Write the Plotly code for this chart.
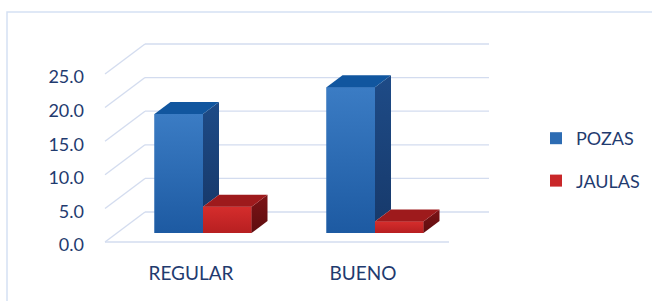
import plotly.graph_objects as go

# ---------------- data ----------------
categories = ["REGULAR", "BUENO"]
series_names = ["POZAS", "JAULAS"]
pozas = [17.7, 21.7]
jaulas = [3.9, 1.7]
y_tick_values = [0, 5, 10, 15, 20, 25]
y_tick_labels = ["0.0", "5.0", "10.0", "15.0", "20.0", "25.0"]

# ---------------- styling / geometry ----------------
W, H = 652, 301
ML, MR, MT, MB = 88, 0, 0, 45
PX_PER_CAT = 172.0
PX_PER_VAL = 6.72
X0_PX = 191.0      # pixel of category 0 at the front of the floor
Y0_PX = 212.0      # pixel of value 0 on the back wall
DEPTH_X = 40 / PX_PER_CAT
DEPTH_Y = 30 / PX_PER_VAL
BAR_D0, BAR_D1 = 0.3, 0.7
BAR_W = 0.282
LABEL_DROP = 3 / PX_PER_VAL   # tick labels sit a little below the wall corner

TEXT = "#1f3b6f"
GRID = "#d3dcef"
FONT = "Lato"

face = {
    "POZAS": dict(front="#2d6cb3", front_top="#3b7cc4", front_bot="#1d5aa2",
                  top="#11569f", side_top="#1e4b87", side_bot="#173a6c"),
    "JAULAS": dict(front="#c92729", front_top="#d52d2c", front_bot="#b71f21",
                   top="#9e1a1c", side_top="#7c1316", side_bot="#5e0d0f"),
}

def proj(x, v, d):
    return x + d * DEPTH_X, v - (1 - d) * DEPTH_Y

plot_w = W - ML - MR
plot_h = H - MT - MB
x_range = [(ML - X0_PX) / PX_PER_CAT, (W - MR - X0_PX) / PX_PER_CAT]
y_range = [(Y0_PX - (H - MB)) / PX_PER_VAL, (Y0_PX - MT) / PX_PER_VAL]

fig = go.Figure()

series = [pozas, jaulas]
base_val = -(1 - BAR_D0) * DEPTH_Y
xs = list(range(len(categories)))

# front faces (bars)
for s, (name, vals) in enumerate(zip(series_names, series)):
    offs = -BAR_W / 2 if s == 0 else BAR_W / 2
    fig.add_trace(go.Bar(
        x=[i + BAR_D0 * DEPTH_X + offs for i in xs],
        y=vals,
        base=[base_val] * len(vals),
        width=BAR_W,
        name=name,
        marker=dict(color=face[name]["front"], line=dict(width=0)),
        legendgroup=name,
        hoverinfo="skip",
    ))

def poly(pts, **kw):
    fig.add_trace(go.Scatter(
        x=[p[0] for p in pts] + [pts[0][0]], y=[p[1] for p in pts] + [pts[0][1]],
        mode="lines", fill="toself", line=dict(width=0),
        showlegend=False, hoverinfo="skip", **kw))

# shading of front faces, side and top faces
for i in xs:
    for s, (name, vals) in enumerate(zip(series_names, series)):
        v = vals[i]
        f = face[name]
        xl = i - BAR_W if s == 0 else i
        xr = xl + BAR_W
        # front face gradient
        poly([proj(xl, 0, BAR_D0), proj(xr, 0, BAR_D0), proj(xr, v, BAR_D0), proj(xl, v, BAR_D0)],
             fillgradient=dict(type="vertical", colorscale=[[0, f["front_bot"]], [1, f["front_top"]]]))
        # right side face (part hidden by the neighbouring bar is left out)
        lo = 0
        if s == 0:
            lo = min(series[1][i], v)
        if v > lo:
            poly([proj(xr, lo, BAR_D0), proj(xr, v, BAR_D0), proj(xr, v, BAR_D1), proj(xr, lo, BAR_D1)],
                 fillgradient=dict(type="vertical", colorscale=[[0, f["side_bot"]], [1, f["side_top"]]]))
        # top face
        poly([proj(xl, v, BAR_D0), proj(xr, v, BAR_D0), proj(xr, v, BAR_D1), proj(xl, v, BAR_D1)],
             fillcolor=f["top"])

# walls: back gridlines, side-wall diagonals, floor front edge
shapes = []
left, right = -0.5, len(categories) - 0.5
for v in y_tick_values:
    a = proj(left, v, 1); b = proj(right, v, 1)
    shapes.append(dict(type="line", xref="x", yref="y", x0=a[0], y0=a[1], x1=b[0], y1=b[1],
                       line=dict(color=GRID, width=1.3), layer="below"))
    c = proj(left, v, 0)
    shapes.append(dict(type="line", xref="x", yref="y", x0=c[0], y0=c[1], x1=a[0], y1=a[1],
                       line=dict(color=GRID, width=1.3), layer="below"))
a = proj(left, 0, 0); b = proj(right, 0, 0)
shapes.append(dict(type="line", xref="x", yref="y", x0=a[0], y0=a[1], x1=b[0], y1=b[1],
                   line=dict(color=GRID, width=1.3), layer="below"))
# chart frame
shapes.append(dict(type="rect", xref="paper", yref="paper",
                   x0=(7 - ML) / plot_w, x1=1.2, y0=-0.5, y1=1 - (12 - MT) / plot_h,
                   line=dict(color="#d5e1f3", width=1.5), layer="below"))

fig.update_layout(
    width=W, height=H,
    margin=dict(l=ML, r=MR, t=MT, b=MB, autoexpand=False),
    paper_bgcolor="white", plot_bgcolor="white",
    barmode="overlay",
    shapes=shapes,
    font=dict(family=FONT, size=18, color=TEXT),
    xaxis=dict(range=x_range, tickvals=xs, ticktext=categories, showgrid=False,
               zeroline=False, showline=False, ticks="", fixedrange=True, automargin=False,
               tickfont=dict(size=19), ticklabelstandoff=4),
    yaxis=dict(range=y_range, tickvals=[v - DEPTH_Y - LABEL_DROP for v in y_tick_values],
               ticktext=y_tick_labels, showgrid=False, zeroline=False,
               showline=False, ticks="", fixedrange=True, automargin=False,
               ticklabelstandoff=3),
    legend=dict(x=(536 - ML) / plot_w, y=1 - (120 - MT) / plot_h, xanchor="left", yanchor="top",
                font=dict(family=FONT, size=18, color=TEXT), tracegroupgap=16,
                traceorder="grouped", bgcolor="rgba(0,0,0,0)"),
    showlegend=True,
)

fig.write_html("out.html", config={"displayModeBar": False},
               post_script="document.body.style.margin='0px';")
